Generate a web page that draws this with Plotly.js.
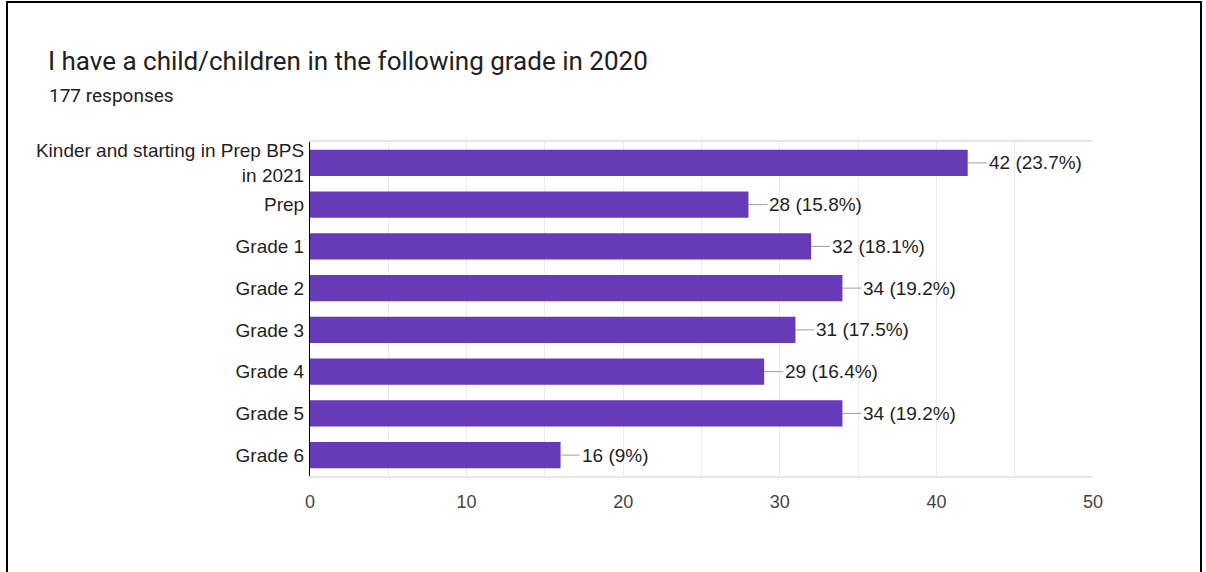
<!DOCTYPE html>
<html>
<head>
<meta charset="utf-8">
<script src="https://cdn.plot.ly/plotly-3.0.1.min.js"></script>
<style>
  html, body { margin: 0; padding: 0; background: #fff; }
  #wrap { position: relative; width: 1206px; height: 572px; overflow: hidden; }
  #frame { position: absolute; left: 6px; top: 1px; width: 1196px; height: 600px; border: 2px solid #000; box-sizing: border-box; pointer-events: none; z-index: 5; }
  #chart { position: absolute; left: 0; top: 0; width: 1206px; height: 572px; }
</style>
</head>
<body>
<div id="wrap">
  <div id="chart"></div>
  <div id="frame"></div>
</div>
<script>
const categories = [
  "Kinder and starting in Prep BPS<br>in 2021",
  "Prep",
  "Grade 1",
  "Grade 2",
  "Grade 3",
  "Grade 4",
  "Grade 5",
  "Grade 6"
];
const counts = [42, 28, 32, 34, 31, 29, 34, 16];
const percents = ["23.7%", "15.8%", "18.1%", "19.2%", "17.5%", "16.4%", "19.2%", "9%"];
const xTicks = [0, 10, 20, 30, 40, 50];
const titleText = "I have a child/children in the following grade in 2020";
const subtitleText = "177 responses";

const labelFont = { family: "Arial, 'Liberation Sans', sans-serif", size: 19, color: "#1f1f1f" };

const annotations = counts.map((v, i) => ({
  x: v, y: categories[i], xref: "x", yref: "y",
  text: v + " (" + percents[i] + ")",
  showarrow: true, arrowhead: 0, arrowwidth: 1, arrowcolor: "#9e9e9e",
  ax: 19, ay: 0, xanchor: "left", yanchor: "middle",
  standoff: 0, startstandoff: 0,
  font: labelFont
}));
annotations.push({
  xref: "paper", yref: "paper",
  x: (47 - 310) / 783, y: (476 - 96) / 334,
  xanchor: "left", yanchor: "middle",
  text: subtitleText, showarrow: false,
  font: { family: "Roboto, Arial, sans-serif", size: 19, color: "#202124" }
});

const trace = {
  type: "bar", orientation: "h",
  x: counts, y: categories,
  marker: { color: "#673ab7", line: { width: 0 } },
  hoverinfo: "none"
};

const layout = {
  width: 1206, height: 572,
  paper_bgcolor: "#ffffff", plot_bgcolor: "#ffffff",
  margin: { l: 310, r: 113, t: 142, b: 96 },
  title: {
    text: titleText,
    xref: "container", yref: "container",
    x: 48 / 1206, y: 1 - 61 / 572,
    xanchor: "left", yanchor: "middle",
    font: { family: "Roboto, Arial, sans-serif", size: 26, color: "#202124" }
  },
  bargap: 0.377,
  showlegend: false,
  xaxis: {
    range: [0, 50],
    tickvals: xTicks,
    ticktext: xTicks.map(String),
    showgrid: true, gridcolor: "#ebebeb", gridwidth: 1,
    minor: { dtick: 5, showgrid: true, gridcolor: "#ebebeb", gridwidth: 1 },
    zeroline: false,
    showline: true, mirror: true, linecolor: "#e6e6e6", linewidth: 2,
    ticks: "", ticklabelstandoff: 8,
    tickfont: { family: "Arial, 'Liberation Sans', sans-serif", size: 18, color: "#444444" },
    fixedrange: true
  },
  yaxis: {
    autorange: "reversed",
    showgrid: false, zeroline: false,
    showline: true, linecolor: "#000000", linewidth: 1,
    ticks: "", ticklabelstandoff: 1,
    tickfont: labelFont,
    fixedrange: true
  },
  annotations: annotations
};

Plotly.newPlot("chart", [trace], layout, { displayModeBar: false, staticPlot: true });
</script>
</body>
</html>
